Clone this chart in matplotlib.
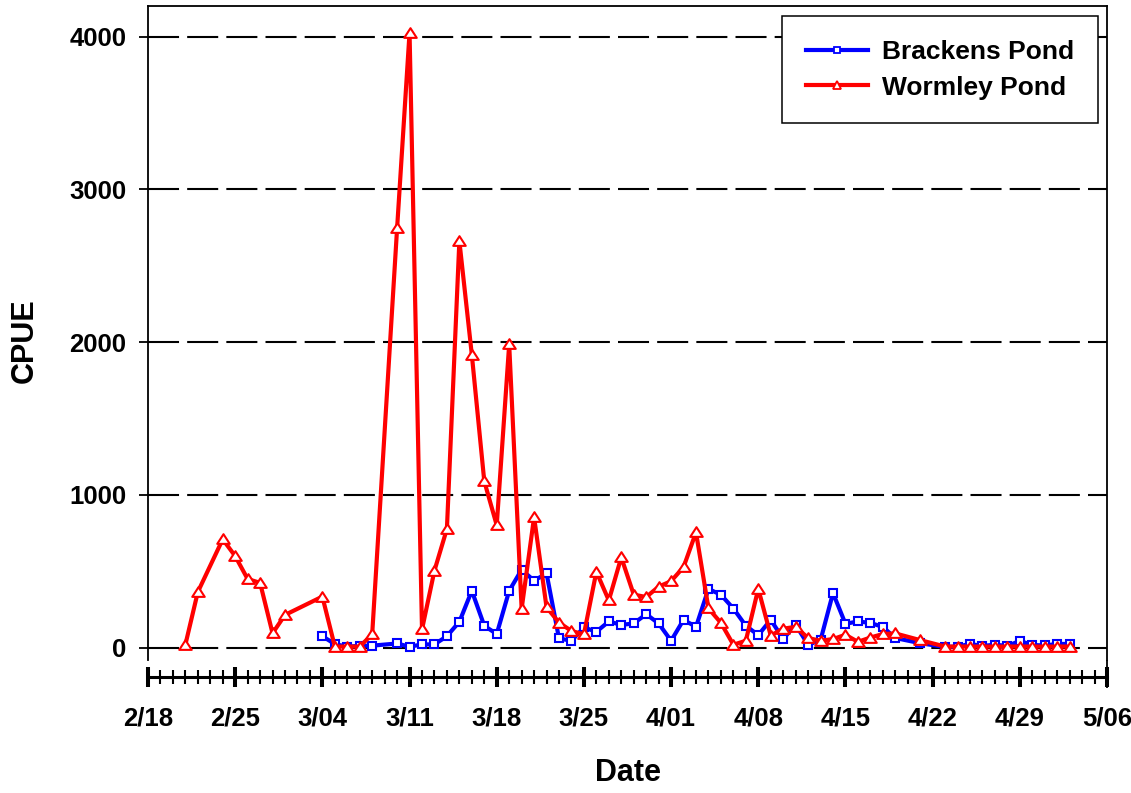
import matplotlib
matplotlib.use('Agg')
import matplotlib.pyplot as plt
from matplotlib.ticker import FixedLocator, MultipleLocator, NullFormatter
from matplotlib.lines import Line2D
from matplotlib.path import Path
from datetime import date

plt.rcParams['font.family'] = ['Liberation Sans', 'DejaVu Sans']
plt.rcParams['font.weight'] = 'bold'

YEAR = 2003

brackens_dates = ["3/04", "3/05", "3/06", "3/07", "3/08", "3/10", "3/11", "3/12", "3/13",
                  "3/14", "3/15", "3/16", "3/17", "3/18", "3/19", "3/20", "3/21", "3/22",
                  "3/23", "3/24", "3/25", "3/26", "3/27", "3/28", "3/29", "3/30", "3/31",
                  "4/01", "4/02", "4/03", "4/04", "4/05", "4/06", "4/07", "4/08", "4/09",
                  "4/10", "4/11", "4/12", "4/13", "4/14", "4/15", "4/16", "4/17", "4/18",
                  "4/19", "4/21", "4/23", "4/24", "4/25", "4/26", "4/27", "4/28", "4/29",
                  "4/30", "5/01", "5/02", "5/03"]
brackens_cpue = [76, 24, 7, 13, 14, 28, 7, 22, 22,
                 76, 170, 373, 144, 90, 373, 511, 439, 487,
                 61, 46, 133, 105, 172, 150, 159, 220, 159,
                 46, 183, 137, 385, 347, 257, 144, 83, 183,
                 58, 150, 20, 50, 358, 157, 172, 163, 136,
                 64, 30, 5, 8, 25, 12, 20, 12, 45,
                 18, 15, 25, 25]

wormley_dates = ["2/21", "2/22", "2/24", "2/25", "2/26", "2/27", "2/28", "3/01", "3/04",
                 "3/05", "3/06", "3/07", "3/08", "3/10", "3/11", "3/12", "3/13", "3/14",
                 "3/15", "3/16", "3/17", "3/18", "3/19", "3/20", "3/21", "3/22", "3/23",
                 "3/24", "3/25", "3/26", "3/27", "3/28", "3/29", "3/30", "3/31", "4/01",
                 "4/02", "4/03", "4/04", "4/05", "4/06", "4/07", "4/08", "4/09", "4/10",
                 "4/11", "4/12", "4/13", "4/14", "4/15", "4/16", "4/17", "4/18", "4/19",
                 "4/21", "4/23", "4/24", "4/25", "4/26", "4/27", "4/28", "4/29", "4/30",
                 "5/01", "5/02", "5/03"]
wormley_cpue = [20, 365, 710, 600, 450, 425, 95, 215, 335,
                8, 8, 8, 88, 2745, 4025, 120, 505, 778,
                2662, 1918, 1090, 802, 1985, 255, 855, 265, 165,
                110, 88, 498, 310, 592, 348, 332, 400, 436,
                528, 756, 258, 163, 20, 46, 386, 80, 125,
                137, 64, 46, 57, 85, 39, 67, 90, 94,
                50, 8, 8, 8, 8, 8, 8, 8, 8,
                8, 8, 8]

x_tick_labels = ["2/18", "2/25", "3/04", "3/11", "3/18", "3/25", "4/01",
                 "4/08", "4/15", "4/22", "4/29", "5/06"]
y_ticks = [0, 1000, 2000, 3000, 4000]


def day_num(s):
    m, d = map(int, s.split('/'))
    return (date(YEAR, m, d) - date(YEAR, 2, 18)).days


bx = [day_num(s) for s in brackens_dates]
wx = [day_num(s) for s in wormley_dates]
xt = [day_num(s) for s in x_tick_labels]

W, H = 1131, 793
fig = plt.figure(figsize=(W / 100, H / 100), dpi=100)
left, right, top, bottom = 148, 1107, 6, 660
ax = fig.add_axes([left / W, 1 - bottom / H, (right - left) / W, (bottom - top) / H])

ax.set_xlim(xt[0], xt[-1])
ax.set_ylim(-80, 4200)

# gridlines
for yv in y_ticks:
    ax.axhline(yv, color='black', lw=1.5, linestyle=(0, (14.9, 3.9)), zorder=1)

tri = Path([(-1.0, -0.7), (1.0, -0.7), (0.0, 0.85), (-1.0, -0.7)],
           [Path.MOVETO, Path.LINETO, Path.LINETO, Path.CLOSEPOLY])
ax.plot(bx, brackens_cpue, color='#0000FF', lw=3.0, marker='s', markersize=5.8,
        markerfacecolor='white', markeredgecolor='#0000FF', markeredgewidth=1.5,
        zorder=3, clip_on=False)
ax.plot(wx, wormley_cpue, color='#FF0000', lw=3.0, marker=tri, markersize=9.0,
        markerfacecolor='white', markeredgecolor='#FF0000', markeredgewidth=1.5,
        zorder=4, clip_on=False)

# spines
for s in ['left', 'top', 'right']:
    ax.spines[s].set_linewidth(1.3)
ax.spines['bottom'].set_position(('outward', 12.2))
ax.spines['bottom'].set_linewidth(2.2)
ax.plot([1, 1], [0, -0.043], transform=ax.transAxes, color='black', lw=1.3,
        clip_on=False, solid_capstyle='butt')

ax.yaxis.set_major_locator(FixedLocator(y_ticks))
ax.set_yticklabels([str(v) for v in y_ticks])
ax.tick_params(axis='y', which='major', direction='out', length=6.5, width=1.3,
               pad=9, labelsize=18.5)

ax.xaxis.set_major_locator(FixedLocator(xt))
ax.set_xticklabels(x_tick_labels)
ax.xaxis.set_minor_locator(MultipleLocator(1))
ax.xaxis.set_minor_formatter(NullFormatter())
ax.tick_params(axis='x', which='major', direction='inout', length=15, width=2.9,
               pad=14, labelsize=18.5)
ax.tick_params(axis='x', which='minor', direction='inout', length=9.4, width=1.5)

ax.set_ylabel('CPUE', fontsize=22, fontweight='bold')
ax.yaxis.label.set_va('center')
ax.yaxis.set_label_coords((25 - left) / (right - left), (bottom - 341) / (bottom - top))
ax.set_xlabel('Date', fontsize=22, fontweight='bold')
ax.xaxis.label.set_va('center')
ax.xaxis.set_label_coords((628 - left) / (right - left), (bottom - 773) / (bottom - top))

handles = [
    Line2D([], [], color='#0000FF', lw=3.0, marker='s', markersize=4.8,
           markerfacecolor='white', markeredgecolor='#0000FF', markeredgewidth=1.3),
    Line2D([], [], color='#FF0000', lw=3.0, marker='^', markersize=5.5,
           markerfacecolor='white', markeredgecolor='#FF0000', markeredgewidth=1.3),
]
leg = ax.legend(handles, ['Brackens Pond', 'Wormley Pond'],
                loc='upper right',
                bbox_to_anchor=((1098.3 - left) / (right - left), (bottom - 16) / (bottom - top)),
                borderaxespad=0, fancybox=False, framealpha=1, edgecolor='black',
                prop={'size': 19, 'weight': 'bold'}, handlelength=2.35,
                handletextpad=0.55, borderpad=0.9, labelspacing=0.45)
leg.get_frame().set_linewidth(1.1)

fig.savefig('out.png', dpi=100)
